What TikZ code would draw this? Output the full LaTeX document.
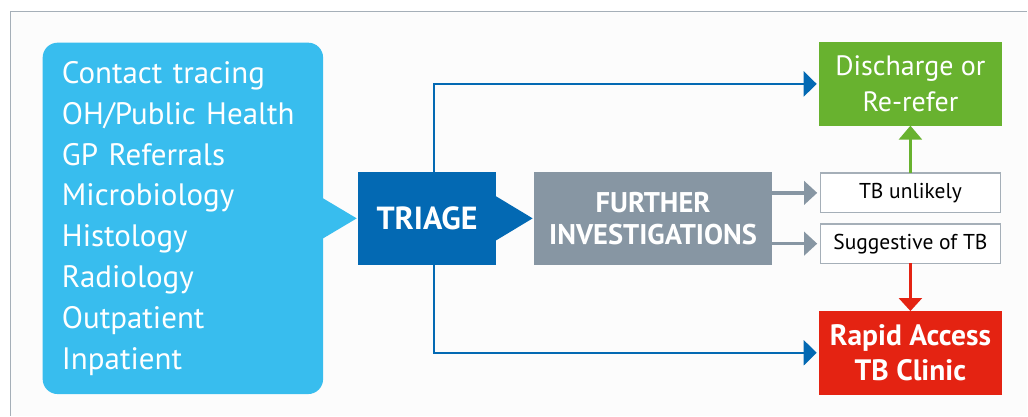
\documentclass[tikz,border=0pt]{standalone}
\usepackage{fontspec}
\setmainfont{PT Sans}
\usepackage{tikz}
\usetikzlibrary{arrows.meta}
\definecolor{srcblue}{HTML}{38BDEE}
\definecolor{triblue}{HTML}{0369B3}
\definecolor{invgrey}{HTML}{8796A3}
\definecolor{okgreen}{HTML}{68B22F}
\definecolor{tbred}{HTML}{E42312}
\definecolor{framegrey}{HTML}{A5AFB8}
\tikzset{
flatbox/.style={rectangle, inner sep=0pt, outer sep=0pt, text=white, align=center},
outbox/.style={flatbox, minimum width=183.5pt, minimum height=83.5pt, font=\fontsize{28}{36}\selectfont},
smallbox/.style={rectangle, draw=framegrey, line width=1.3pt, fill=white, inner sep=0pt, outer sep=0pt, minimum width=180.5pt, minimum height=39.5pt, font=\fontsize{21.5}{24}\selectfont},
flow/.style={line width=2pt, -{Triangle[length=13pt,width=25pt]}},
}

\begin{document}
\begin{tikzpicture}[x=1pt,y=-1pt]
% page and frame
\fill[white] (0,0) rectangle (1028,416);
\fill[black!1] (10.7,11.7) rectangle (1028,416);
\draw[framegrey,line width=1.3pt] (10.7,416) -- (10.7,11.7) -- (1028,11.7);

% sources
\node[rectangle, rounded corners=15pt, fill=srcblue, text=white, inner sep=0pt,
      minimum width=280.6pt, minimum height=351.6pt, text width=242pt, align=left,
      font=\fontsize{31}{40.8}\selectfont] (src) at (183,218.5)
  {Contact tracing\\OH/Public Health\\GP Referrals\\Microbiology\\Histology\\Radiology\\Outpatient\\Inpatient};
\node[flatbox, fill=triblue, minimum width=138.7pt, minimum height=93pt,
      font=\fontsize{32}{34}\selectfont\bfseries] (triage) at (427.3,218.5) {TRIAGE};
\node[flatbox, fill=invgrey, minimum width=237.6pt, minimum height=93pt,
      font=\fontsize{28.5}{32}\selectfont\bfseries] (further) at (653.5,218.5) {FURTHER\\INVESTIGATIONS};

% pointers
\fill[srcblue] ([xshift=-1pt,yshift=20.5pt]src.east) -- ([xshift=-1pt]triage.west) -- ([xshift=-1pt,yshift=-20.5pt]src.east) -- cycle;
\fill[triblue] ([xshift=-1pt,yshift=22.5pt]triage.east) -- ([xshift=-1.7pt]further.west) -- ([xshift=-1pt,yshift=-22.5pt]triage.east) -- cycle;

% outcomes
\node[outbox, fill=okgreen] (discharge) at (911,84) {Discharge or\\Re-refer};
\node[smallbox] (unlikely) at (911,193) {TB unlikely};
\node[smallbox] (suggest) at (911,243.8) {Suggestive of TB};
\node[outbox, fill=tbred, font=\fontsize{29.5}{34.5}\selectfont\bfseries] (rapid) at (911,353) {Rapid Access\\TB Clinic};

% connectors
\draw[flow, triblue, shorten >=2pt] ([xshift=6.7pt]triage.north) |- (discharge.west);
\draw[flow, triblue, shorten >=2pt] ([xshift=6.7pt]triage.south) |- (rapid.west);
\draw[flow, invgrey, line width=3.7pt, -{Triangle[length=13pt,width=23pt]}, shorten >=3pt] (further.east |- unlikely.west) -- (unlikely.west);
\draw[flow, invgrey, line width=3.7pt, -{Triangle[length=13pt,width=23pt]}, shorten >=3pt] (further.east |- suggest.west) -- (suggest.west);
\draw[flow, okgreen, line width=2.6pt, -{Triangle[length=14pt,width=23pt]}] (unlikely.north) -- (discharge.south);
\draw[flow, tbred, line width=2.6pt, -{Triangle[length=13pt,width=23pt]}] (suggest.south) -- (rapid.north);
\end{tikzpicture}
\end{document}
